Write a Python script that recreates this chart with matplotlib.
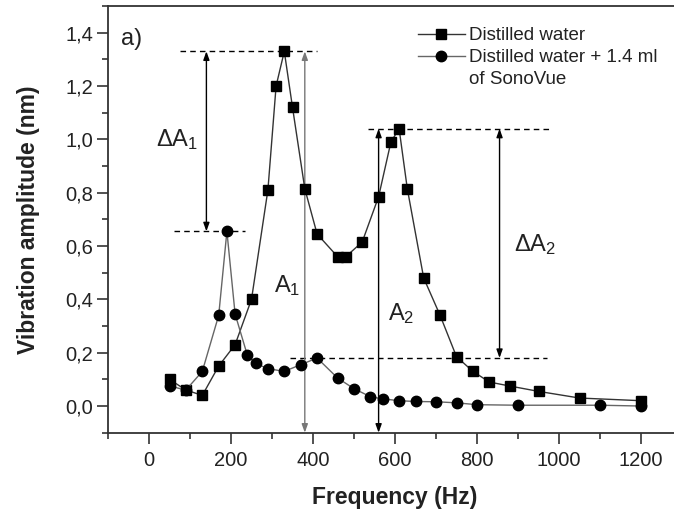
import numpy as np
import matplotlib
matplotlib.use("Agg")
import matplotlib.pyplot as plt
from matplotlib.lines import Line2D
from matplotlib.ticker import MultipleLocator, FuncFormatter

plt.rcParams['font.family'] = ['Liberation Sans', 'DejaVu Sans']
plt.rcParams['mathtext.default'] = 'regular'

# Distilled water
water_hz = [50, 90, 130, 170, 210, 250, 290, 310, 330, 350, 380, 410, 460, 480,
            520, 560, 590, 610, 630, 670, 710, 750, 790, 830, 880, 950, 1050, 1200]
water_amp = [0.10, 0.06, 0.04, 0.15, 0.23, 0.40, 0.81, 1.20, 1.33, 1.12, 0.815, 0.645,
             0.56, 0.56, 0.615, 0.785, 0.99, 1.04, 0.815, 0.48, 0.34, 0.185, 0.13,
             0.09, 0.075, 0.055, 0.03, 0.02]

# Distilled water + 1.4 ml of SonoVue
sono_hz = [50, 90, 130, 170, 190, 210, 240, 260, 290, 330, 370, 410, 460, 500, 540,
           570, 610, 650, 700, 750, 800, 900, 1100, 1200]
sono_amp = [0.075, 0.06, 0.13, 0.34, 0.655, 0.345, 0.19, 0.16, 0.14, 0.13, 0.155, 0.18,
            0.105, 0.065, 0.035, 0.027, 0.02, 0.017, 0.016, 0.012, 0.005, 0.003, 0.003, 0.0]

# frequencies where the amplitude arrows are drawn
dA1_x, A1_x, A2_x, dA2_x = 140, 380, 560, 855

fig = plt.figure(figsize=(6.74, 5.12), dpi=100)
ax = fig.add_axes([108 / 674, 1 - 432.7 / 512, 574 / 674, 426.7 / 512])

l1, = ax.plot(water_hz, water_amp, color='#333333', lw=1.0, marker='s', ms=7,
              mfc='black', mec='black', zorder=3)
l2, = ax.plot(sono_hz, sono_amp, color='#666666', lw=1.0, marker='o', ms=7.5,
              mfc='black', mec='black', zorder=3)

ax.set_xlim(-100, 1300)
ax.set_ylim(-0.1, 1.5)

# reference levels
a1_top = max(water_amp)
a1_low = max(sono_amp)
a2_top = max(water_amp[water_hz.index(520):])
a2_low = sono_amp[sono_hz.index(410)]
dash = (0, (4, 3))
ax.hlines(a1_top, 75, 410, colors='black', lw=1, linestyles=dash)
ax.hlines(a1_low, 60, 235, colors='black', lw=1, linestyles=dash)
ax.hlines(a2_top, 535, 975, colors='black', lw=1, linestyles=dash)
ax.hlines(a2_low, 345, 970, colors='black', lw=1, linestyles=dash)

arrow = '<|-|>,head_length=0.5,head_width=0.18'
def varrow(x, y0, y1, color='black'):
    ax.annotate('', xy=(x, y1), xytext=(x, y0),
                arrowprops=dict(arrowstyle=arrow, color=color, lw=1,
                                shrinkA=0, shrinkB=0), zorder=2)

varrow(dA1_x, a1_low, a1_top)
varrow(A1_x, -0.1, a1_top, color='#777777')
varrow(A2_x, -0.1, a2_top)
varrow(dA2_x, a2_low, a2_top)

txt = dict(fontsize=17, color='#222222', ha='center', va='center')
ax.text(68, 1.0, r'$\Delta A_1$', **txt)
ax.text(336, 0.45, r'$A_1$', **txt)
ax.text(614, 0.345, r'$A_2$', **txt)
ax.text(942, 0.605, r'$\Delta A_2$', **txt)
ax.text(-68, 1.378, 'a)', fontsize=17, color='#222222', ha='left', va='center')

ax.xaxis.set_major_locator(MultipleLocator(200))
ax.xaxis.set_minor_locator(MultipleLocator(100))
ax.yaxis.set_major_locator(MultipleLocator(0.2))
ax.yaxis.set_minor_locator(MultipleLocator(0.1))
ax.xaxis.set_major_formatter(FuncFormatter(
    lambda v, p: f'{v:.0f}' if -1 < v < 1201 else ''))
ax.yaxis.set_major_formatter(FuncFormatter(
    lambda v, p: f'{v:.1f}'.replace('.', ',') if -0.01 < v < 1.41 else ''))
ax.tick_params(which='both', direction='out', color='#333333', width=1.2,
               labelsize=14.5, labelcolor='#222222', top=False, right=False)
ax.tick_params(axis='x', which='major', length=8, pad=5)
ax.tick_params(axis='y', which='major', length=8, pad=2.5)
ax.tick_params(which='minor', length=4)
for s in ax.spines.values():
    s.set_color('#333333')
    s.set_linewidth(1.3)

ax.set_xlabel('Frequency (Hz)', fontsize=16.5, fontweight='bold', color='#222222')
ax.set_ylabel('Vibration amplitude (nm)', fontsize=16.5, fontweight='bold', color='#222222')
ax.xaxis.set_label_coords(0.5, -0.125)
ax.yaxis.set_label_coords(-0.118, 0.5)

# second label wraps onto a row without a marker
blank = Line2D([], [], linestyle='none', marker='none')
ax.legend([l1, l2, blank],
          ['Distilled water', 'Distilled water + 1.4 ml', 'of SonoVue'],
          loc='upper left', bbox_to_anchor=(0.54, 0.95), frameon=False,
          fontsize=13.5, handlelength=2.5, handletextpad=0.2, borderpad=0,
          borderaxespad=0, labelspacing=0.26, labelcolor='#222222')

fig.savefig('out.png', dpi=100)
